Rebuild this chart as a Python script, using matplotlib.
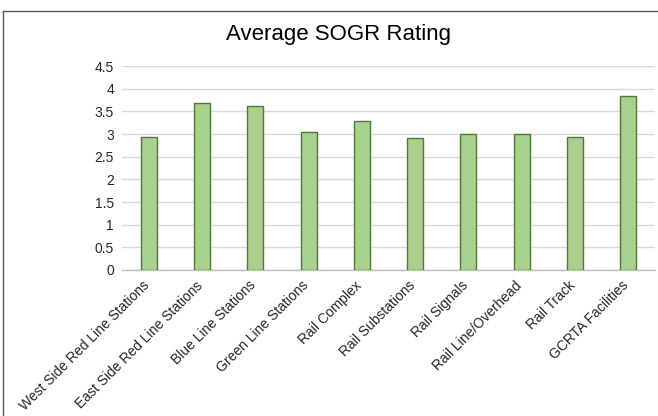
import matplotlib.pyplot as plt
from matplotlib.lines import Line2D
import matplotlib.transforms as mtransforms
import numpy as np

plt.rcParams['font.family'] = ['Liberation Sans', 'DejaVu Sans']

categories = ['West Side Red Line Stations', 'East Side Red Line Stations',
              'Blue Line Stations', 'Green Line Stations', 'Rail Complex',
              'Rail Substations', 'Rail Signals', 'Rail Line/Overhead',
              'Rail Track', 'GCRTA Facilities']
ratings = [2.94, 3.69, 3.61, 3.05, 3.28, 2.91, 3.0, 3.0, 2.94, 3.84]
yticks = [0, 0.5, 1, 1.5, 2, 2.5, 3, 3.5, 4, 4.5]
ytick_labels = ['0', '0.5', '1', '1.5', '2', '2.5', '3', '3.5', '4', '4.5']

fig = plt.figure(figsize=(6.58, 4.16), dpi=100)
ax = fig.add_axes([0.186, 0.351, 0.809, 0.49])

x = np.arange(len(categories))
ax.bar(x, ratings, width=0.3, color='#A9D18E', edgecolor='#4E7A32',
       linewidth=1.0, zorder=3)

ax.set_xlim(-0.5, len(categories) - 0.5)
ax.set_ylim(0, 4.5)
ax.set_yticks(yticks)
ax.set_yticklabels(ytick_labels, fontsize=10, color='#262626')
ax.set_xticks(x)
ax.set_xticklabels(categories, rotation=45, ha='right', rotation_mode='anchor',
                   fontsize=10, color='#262626')
ax.tick_params(axis='both', length=0, pad=6)
# nudge the rotated category labels a little to the left
shift = mtransforms.ScaledTranslation(-7 / 100, 0, fig.dpi_scale_trans)
for lbl in ax.get_xticklabels():
    lbl.set_transform(lbl.get_transform() + shift)
ax.grid(axis='y', color='#D9D9D9', linewidth=1.0, zorder=0)
for s in ['top', 'right', 'left']:
    ax.spines[s].set_visible(False)
ax.spines['bottom'].set_color('#BFBFBF')
ax.spines['bottom'].set_linewidth(1.0)

fig.text(0.514, 0.916, 'Average SOGR Rating', ha='center', va='center',
         fontsize=16, color='#000000')

# chart border (only top and left edges are inside the picture)
bx = 2.5 / 658
by = 1 - 11 / 416
fig.lines.append(Line2D([bx, 1], [by, by], transform=fig.transFigure,
                        color='#595959', linewidth=1.0))
fig.lines.append(Line2D([bx, bx], [0, by], transform=fig.transFigure,
                        color='#595959', linewidth=1.0))

fig.savefig('out.png', dpi=100)
